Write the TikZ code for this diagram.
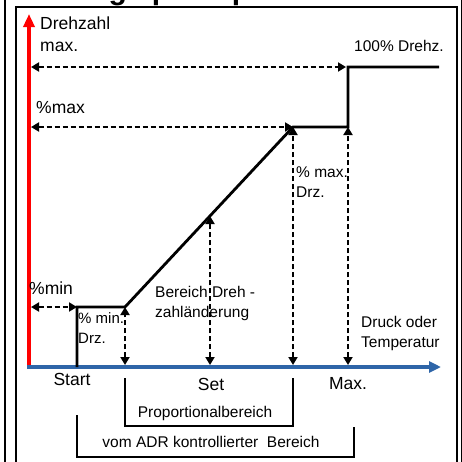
\documentclass[tikz,border=0pt]{standalone}
\usepackage{fontspec}
\setmainfont{Liberation Sans}
\usetikzlibrary{arrows.meta}
\definecolor{axisblue}{RGB}{46,101,168}
\tikzset{
  frame/.style={line width=1.3pt},
  curve/.style={line width=2.8pt},
  guide/.style={line width=1.8pt, dash pattern=on 5pt off 3pt,
    {Triangle[length=8pt,width=9pt]}-{Triangle[length=8pt,width=9pt]}},
  txt/.style={inner sep=0pt, anchor=west, align=left, font=\fontsize{15.5}{20}\selectfont},
  big/.style={inner sep=0pt, font=\fontsize{17.5}{21}\selectfont},
}
\begin{document}
\begin{tikzpicture}[x=1pt,y=-1pt]
	\useasboundingbox (0,0) rectangle (462,461);
	% frame and cut title
	\draw[frame] (5,-5) -- (5,470);
	\draw[frame] (461.5,-5) -- (461.5,470);
	\draw[frame] (16,7) rectangle (457,470);
	\node[inner sep=0pt, anchor=base west, font=\bfseries\fontsize{30}{30}\selectfont] (ttl) at (70,-1) {Regelprinzip};

	% axes
	\coordinate (O) at (29,369);
	\coordinate (Ytop) at (29,14);
	\coordinate (X0) at (27,367);
	\coordinate (Xend) at (441,367);
	\draw[red, line width=3.6pt, -{Triangle[length=13pt,width=11pt]}] (O) -- (Ytop);
	\draw[axisblue, line width=3.6pt, -{Triangle[length=12pt,width=11pt]}] (X0) -- (Xend);

	% curve
	\coordinate (S) at (77,367);
	\coordinate (Lmin) at (77,307);
	\coordinate (Rmin) at (125,307);
	\coordinate (Smid) at (210,216);
	\coordinate (Lmax) at (293,127);
	\coordinate (Rmax) at (348,127);
	\coordinate (Lfull) at (348,67);
	\coordinate (Rfull) at (439,67);
	\draw[curve] (S) -- (Lmin) -- (Rmin) -- (Lmax) -- (Rmax) -- (Lfull) -- (Rfull);

	% guides
	\coordinate (ymax) at (31,67);
	\coordinate (ypmax) at (31,127);
	\coordinate (ypmin) at (31,307);
	\coordinate (x1) at (125,365);
	\coordinate (x2) at (210,365);
	\coordinate (x3) at (293,365);
	\coordinate (x4) at (348,365);
	\path[guide] (ymax) edge[shorten >=2pt] (Lfull);
	\path[guide] (ypmax) edge (Lmax);
	\path[guide] (ypmin) edge (Lmin);
	\path[guide] (x1) edge (Rmin);
	\path[guide] (x2) edge (Smid);
	\path[guide] (x3) edge (Lmax);
	\path[guide] (x4) edge (Rmax);

	% labels
	\node[big, anchor=west] (drehzahl) at (40,23) {Drehzahl};
	\node[big, anchor=west] (maxlbl) at (40,47) {max.};
	\node[txt] (full) at (354,46) {100\% Drehz.};
	\node[big, anchor=west] (pmax) at (36,108) {\%max};
	\node[big, anchor=west] (pmin) at (29,288) {\%min};
	\node[txt, font=\fontsize{15}{20}\selectfont] (minrz) at (78,328) {\% min.\\Drz.};
	\node[txt] (bereich) at (155,303) {Bereich Dreh -\\zahländerung};
	\node[txt] (maxdrz) at (296,182) {\% max.\\Drz.};
	\node[txt] (druck) at (361,333) {Druck oder\\Temperatur};
	\node[big] (start) at (72,379) {Start};
	\node[big] (set) at (211,384) {Set};
	\node[big] (maxx) at (348,384) {Max.};

	% ranges
	\coordinate (pa) at (125,378);
	\coordinate (pb) at (125,426);
	\coordinate (pc) at (293,426);
	\coordinate (pd) at (293,378);
	\draw[curve] (pa) -- (pb) -- (pc) -- (pd);
	\node[txt, anchor=center] (prop) at (205,413) {Proportionalbereich};
	\coordinate (aa) at (77,415);
	\coordinate (ab) at (77,457);
	\coordinate (ac) at (354,457);
	\coordinate (ad) at (354,427);
	\draw[curve] (aa) -- (ab) -- (ac) -- (ad);
	\node[txt, anchor=center] (adr) at (211,442) {vom ADR kontrollierter\ \ Bereich};
\end{tikzpicture}
\end{document}
